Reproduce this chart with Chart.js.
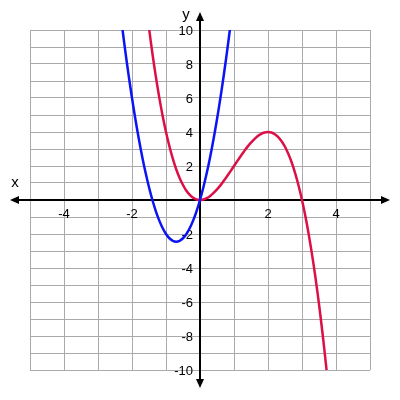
<!DOCTYPE html>
<html lang="en">
<head>
    <title>Two curves</title>
    <meta charset="utf-8">
    <script src="https://cdn.jsdelivr.net/npm/chart.js@4/dist/chart.umd.min.js"></script>
    <style>
        body { margin: 0; background: #fff; }
        #wrap { width: 400px; height: 400px; }
    </style>
</head>
<body>

<div id="wrap">
    <canvas id="graph" width="400" height="400"></canvas>
</div>

<script>
// blue curve
var blueX = [-2.3,-2.2,-2.1,-2.0,-1.9,-1.8,-1.7,-1.6,-1.5,-1.4,-1.3,-1.2,-1.1,-1.0,-0.9,-0.8,-0.7,
             -0.6,-0.5,-0.4,-0.3,-0.2,-0.1,0,0.1,0.2,0.3,0.4,0.5,0.6,0.7,0.8,0.9];
var blueY = [10.35,8.8,7.35,6,4.75,3.6,2.55,1.6,0.75,0,-0.65,-1.2,-1.65,-2,-2.25,-2.4,-2.45,
             -2.4,-2.25,-2,-1.65,-1.2,-0.65,0,0.75,1.6,2.55,3.6,4.75,6,7.35,8.8,10.35];

// red curve
var redX = [-1.6,-1.5,-1.4,-1.3,-1.2,-1.1,-1.0,-0.9,-0.8,-0.7,-0.6,-0.5,-0.4,-0.3,-0.2,-0.1,0,
            0.1,0.2,0.3,0.4,0.5,0.6,0.7,0.8,0.9,1.0,1.1,1.2,1.3,1.4,1.5,1.6,1.7,1.8,1.9,2.0,
            2.1,2.2,2.3,2.4,2.5,2.6,2.7,2.8,2.9,3.0,3.1,3.2,3.3,3.4,3.5,3.6,3.7,3.8];
var redY = [11.78,10.13,8.62,7.27,6.05,4.96,4,3.16,2.43,1.81,1.3,0.88,0.54,0.3,0.13,0.03,0,
            0.03,0.11,0.24,0.42,0.63,0.86,1.13,1.41,1.7,2,2.3,2.59,2.87,3.14,3.38,3.58,3.76,3.89,3.97,4,
            3.97,3.87,3.7,3.46,3.13,2.7,2.19,1.57,0.84,0,-0.96,-2.05,-3.27,-4.62,-6.13,-7.78,-9.58,-11.55];

var xRange = [-5, 5];
var yRange = [-10, 10];
var xLabels = [-4, -2, 2, 4];
var yLabels = [-10, -8, -6, -4, -2, 2, 4, 6, 8, 10];

var labelFont = '13px "Liberation Sans", Arial, sans-serif';

function toPoints(xs, ys) {
    var pts = [];
    for (var i = 0; i < xs.length; i++) pts.push({x: xs[i], y: ys[i]});
    return pts;
}

var axesPlugin = {
    id: 'axes',
    beforeDatasetsDraw: function(chart) {
        var ctx = chart.ctx;
        var sx = chart.scales.x, sy = chart.scales.y;
        var ox = Math.round(sx.getPixelForValue(0));
        var oy = Math.round(sy.getPixelForValue(0));
        var l = 10, r = 390, t = 12, b = 388;
        ctx.save();
        ctx.strokeStyle = '#000';
        ctx.fillStyle = '#000';
        ctx.lineWidth = 2;
        ctx.beginPath();
        ctx.moveTo(l + 4, oy); ctx.lineTo(r - 4, oy);
        ctx.moveTo(ox, t + 4); ctx.lineTo(ox, b - 4);
        ctx.stroke();
        function head(x1, y1, dx, dy) {
            ctx.beginPath();
            ctx.moveTo(x1, y1);
            ctx.lineTo(x1 - dx * 9 - dy * 4, y1 - dy * 9 - dx * 4);
            ctx.lineTo(x1 - dx * 9 + dy * 4, y1 - dy * 9 + dx * 4);
            ctx.closePath();
            ctx.fill();
        }
        head(l, oy, -1, 0);
        head(r, oy, 1, 0);
        head(ox, t, 0, -1);
        head(ox, b, 0, 1);

        // y tick labels, right aligned beside the axis
        ctx.font = labelFont;
        ctx.textAlign = 'right';
        ctx.textBaseline = 'middle';
        yLabels.forEach(function(v) {
            ctx.fillText(String(v), ox - 7, sy.getPixelForValue(v) + 1);
        });

        ctx.font = '15px "Liberation Sans", Arial, sans-serif';
        ctx.textAlign = 'center';
        ctx.fillText('x', 15, oy - 17);
        ctx.fillText('y', ox - 14, 15);
        ctx.restore();
    }
};

new Chart(document.getElementById('graph'), {
    type: 'scatter',
    data: {
        datasets: [
            {data: toPoints(blueX, blueY), borderColor: '#0a14f5', borderWidth: 2.5,
             showLine: true, pointRadius: 0, tension: 0.3},
            {data: toPoints(redX, redY), borderColor: '#dc0f46', borderWidth: 2.5,
             showLine: true, pointRadius: 0, tension: 0.3}
        ]
    },
    options: {
        responsive: false,
        animation: false,
        layout: {padding: 30},
        plugins: {legend: {display: false}, tooltip: {enabled: false}},
        scales: {
            x: {
                type: 'linear', min: xRange[0], max: xRange[1],
                position: {y: 0},
                border: {display: false},
                grid: {color: '#aaa', lineWidth: 1, drawTicks: false},
                ticks: {
                    stepSize: 1, autoSkip: false, maxRotation: 0, padding: 7,
                    color: '#000', font: {family: '"Liberation Sans", Arial, sans-serif', size: 13},
                    callback: function(v) { return xLabels.indexOf(v) >= 0 ? String(v) : ''; }
                }
            },
            y: {
                type: 'linear', min: yRange[0], max: yRange[1],
                position: {x: 0},
                border: {display: false},
                grid: {color: '#aaa', lineWidth: 1, drawTicks: false},
                ticks: {stepSize: 1, display: false}
            }
        }
    },
    plugins: [axesPlugin]
});
</script>
</body>
</html>
